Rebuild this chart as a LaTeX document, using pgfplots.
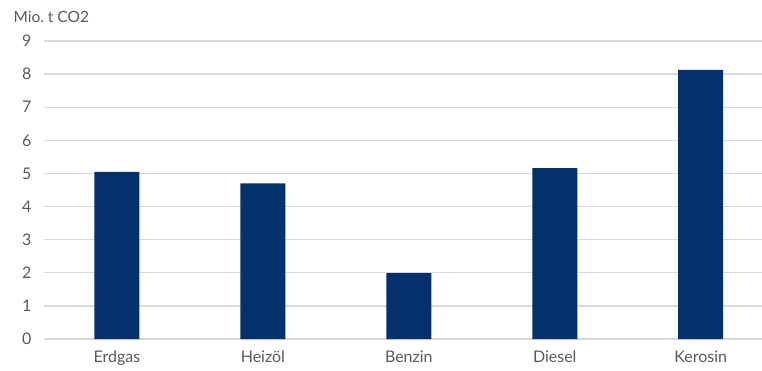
\documentclass[border=0pt]{standalone}
\usepackage{pgfplots}
\pgfplotsset{compat=1.18}
\usepackage{fontspec}
\setmainfont{Lato}
\frenchspacing
\definecolor{navy}{HTML}{03316B}
\definecolor{gridgray}{HTML}{D9D9D9}
\definecolor{txtgray}{HTML}{595959}
\begin{document}
\begin{tikzpicture}[x=1pt,y=1pt]
\begin{axis}[
  at={(44pt,31pt)}, anchor=south west,
  scale only axis, width=718pt, height=298pt,
  ymin=0, ymax=9, ytick={0,1,...,9},
  xmin=-0.5, xmax=4.42,
  xtick={0,1,2,3,4},
  xticklabels={Erdgas,Heizöl,Benzin,Diesel,Kerosin},
  ybar, bar width=0.308,
  axis line style={draw=none},
  major tick length=0pt,
  ymajorgrids, grid style={gridgray, line width=1.4pt},
  tick label style={font=\fontsize{16}{19}\selectfont, text=txtgray},
  /pgf/number format/assume math mode=true,
  yticklabel style={xshift=-9pt},
  xticklabel style={yshift=-8pt},
  ylabel={Mio.\ t CO2},
  every axis y label/.style={at={(rel axis cs:0,1)}, anchor=west, xshift=-34pt, yshift=24pt, font=\fontsize{15.5}{18}\selectfont, text=txtgray},
  clip=false,
]
\addplot[fill=navy, draw=none] coordinates {(0,5.05) (1,4.70) (2,1.99) (3,5.16) (4,8.13)};
\end{axis}
\pgfresetboundingbox
\path (0,0) rectangle (762pt,370pt);
\end{tikzpicture}
\end{document}
